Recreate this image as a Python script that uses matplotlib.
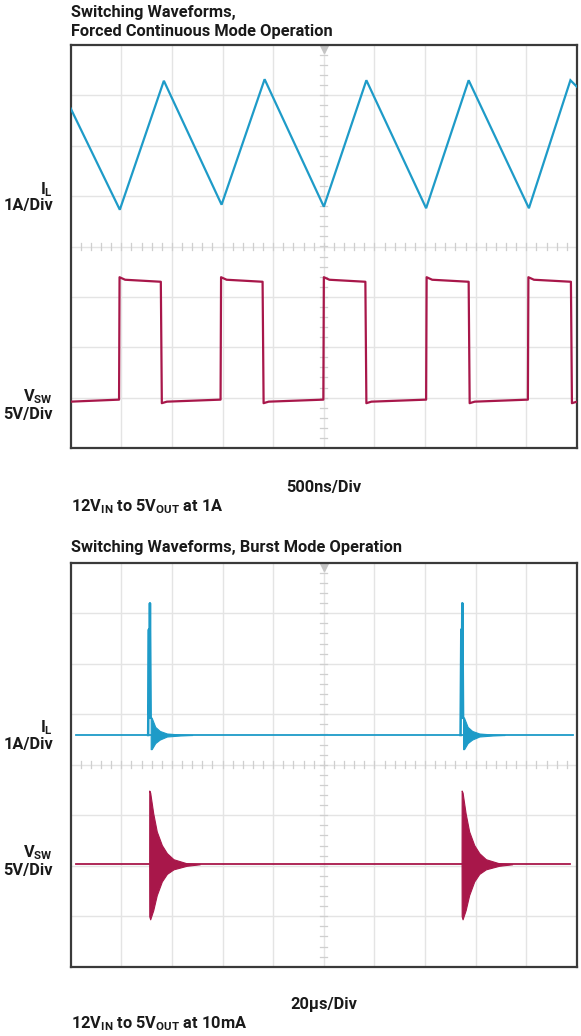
import matplotlib
matplotlib.use("Agg")
import matplotlib.pyplot as plt
import numpy as np

plt.rcParams['font.family'] = ['Roboto', 'DejaVu Sans']
plt.rcParams['font.weight'] = 'bold'

BLUE = "#1e9bc8"
RED = "#a8174a"
GRID = "#e4e4e4"

# ---- forced continuous mode (500ns/Div), values in divisions ----
il_fc_t = [0.0, 0.97, 1.84, 2.98, 3.83, 5.0, 5.84, 7.02, 7.86, 9.05, 9.87, 10.0]
il_fc_y = [2.74, 0.73, 3.29, 0.83, 3.32, 0.79, 3.30, 0.76, 3.30, 0.76, 3.30, 3.17]

vsw_rise = [0.955, 2.96, 4.99, 7.02, 9.03]
vsw_fall = [1.78, 3.79, 5.82, 7.86, 9.88]
vsw_hi_peak, vsw_hi_mid, vsw_hi_end = -0.61, -0.66, -0.70
vsw_lo_start, vsw_lo_mid, vsw_lo_end = -3.11, -3.08, -3.04

# ---- burst mode (20us/Div) ----
burst_t = [1.55, 7.72]
il_base = 0.59
il_base_span = [0.1, 9.92]
il_spike_dt = [-0.02, -0.005, 0.0, 0.015, 0.03]
il_spike_y = [0.59, 2.68, 1.0, 3.2, 0.93]
il_ring_dt = [0.03, 0.05, 0.12, 0.21, 0.35, 0.61, 0.85]
il_ring_hi = [0.95, 0.93, 0.75, 0.67, 0.62, 0.60, 0.59]
il_ring_lo = [0.31, 0.31, 0.43, 0.50, 0.56, 0.58, 0.59]

vsw_base = -1.97
vsw_base_span = [0.1, 9.87]
vsw_ring_dt = [0.0, 0.002, 0.02, 0.08, 0.15, 0.25, 0.35, 0.48, 0.74, 1.0]
vsw_ring_hi = [-1.97, -0.51, -0.55, -0.96, -1.32, -1.59, -1.75, -1.87, -1.95, -1.97]
vsw_ring_lo = [-1.97, -3.00, -3.06, -2.88, -2.58, -2.31, -2.16, -2.07, -2.00, -1.97]

W, H = 581, 1036
fig = plt.figure(figsize=(W / 100, H / 100), dpi=100)


def px_axes(x0, y0, x1, y1):
    return fig.add_axes([x0 / W, 1 - y1 / H, (x1 - x0) / W, (y1 - y0) / H])


def px_text(x, y, s, **kw):
    kw.setdefault('fontsize', 11.8)
    kw.setdefault('fontweight', 'bold')
    kw.setdefault('color', '#1a1a1a')
    fig.text(x / W, 1 - y / H, s, va='baseline', **kw)


def scope_grid(ax):
    ax.set_xlim(0, 10)
    ax.set_ylim(-4, 4)
    ax.set_xticks([])
    ax.set_yticks([])
    for x in range(1, 10):
        ax.axvline(x, color=GRID, lw=1.0, zorder=0)
    for y in range(-3, 4):
        ax.axhline(y, color=GRID, lw=1.0, zorder=0)
    # minor ticks on the centre lines
    for x in np.arange(0.2, 10, 0.2):
        ax.plot([x, x], [-0.07, 0.07], color="#cfcfcf", lw=0.9, zorder=0)
    for y in np.arange(-3.8, 4, 0.2):
        ax.plot([4.93, 5.07], [y, y], color="#cfcfcf", lw=0.9, zorder=0)
    ax.plot(5, 3.92, marker='v', ms=6, color="#c4c4c4", zorder=1, clip_on=False)
    for s in ax.spines.values():
        s.set_color("#3a3a3a")
        s.set_linewidth(1.6)


# top panel
ax1 = px_axes(70.7, 45, 577, 448)
scope_grid(ax1)
ax1.plot(il_fc_t, il_fc_y, color=BLUE, lw=1.6, solid_joinstyle='miter', zorder=3)

vt = [0.0]
vv = [vsw_lo_mid]
for r, f in zip(vsw_rise, vsw_fall):
    vt += [r, r + 0.01, r + 0.12, f, f + 0.02, f + 0.12]
    vv += [vsw_lo_end, vsw_hi_peak, vsw_hi_mid, vsw_hi_end, vsw_lo_start, vsw_lo_mid]
vt.append(10.0)
vv.append(vsw_lo_mid)
ax1.plot(vt, vv, color=RED, lw=1.6, zorder=3)

# bottom panel
ax2 = px_axes(70.7, 562.8, 577, 966.8)
scope_grid(ax2)
ax2.plot(il_base_span, [il_base, il_base], color=BLUE, lw=1.3, zorder=3)
ax2.plot(vsw_base_span, [vsw_base, vsw_base], color=RED, lw=1.3, zorder=3)
for t0 in burst_t:
    ax2.plot([t0 + d for d in il_spike_dt], il_spike_y, color=BLUE, lw=1.8, zorder=3)
    rt = [t0 + d for d in il_ring_dt]
    ax2.fill_between(rt, il_ring_lo, il_ring_hi, color=BLUE, lw=0.8, zorder=3)
    vt2 = [t0 + d for d in vsw_ring_dt]
    ax2.fill_between(vt2, vsw_ring_lo, vsw_ring_hi, color=RED, lw=0.8, zorder=3)

# titles and notes
px_text(70.7, 17, "Switching Waveforms,")
px_text(70.7, 36, "Forced Continuous Mode Operation")
px_text(323.8, 492, "500ns/Div", ha='center')
px_text(70.7, 511, r"12V$_\mathregular{IN}$ to 5V$_\mathregular{OUT}$ at 1A")

px_text(70.7, 552, "Switching Waveforms, Burst Mode Operation")
px_text(323.8, 1009, "20µs/Div", ha='center')
px_text(70.7, 1028, r"12V$_\mathregular{IN}$ to 5V$_\mathregular{OUT}$ at 10mA")

# channel labels
for yl, ys, ya, yb in [(194, 210, 401, 419), (732, 749, 857, 875)]:
    px_text(53, yl, r"I$_\mathregular{L}$", ha='right')
    px_text(53, ys, "1A/Div", ha='right')
    px_text(53, ya, r"V$_\mathregular{SW}$", ha='right')
    px_text(53, yb, "5V/Div", ha='right')

fig.savefig("out.png", dpi=100)
